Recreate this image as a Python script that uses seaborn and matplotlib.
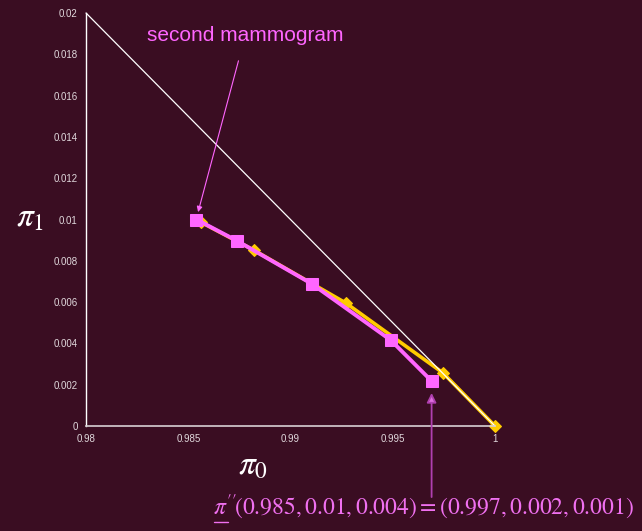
import matplotlib
matplotlib.use("Agg")
import matplotlib.pyplot as plt
from matplotlib.lines import Line2D
import seaborn as sns
import pandas as pd

# Belief-state trajectories on the (pi0, pi1) simplex
pink_pi0 = [0.9854, 0.9874, 0.99105, 0.9949, 0.9969]
pink_pi1 = [0.0100, 0.00896, 0.00688, 0.00416, 0.00218]

gold_pi0 = [0.9856, 0.9882, 0.9927, 0.99746, 1.0]
gold_pi1 = [0.00988, 0.00852, 0.00596, 0.00257, 0.0]

x_ticks = [0.98, 0.985, 0.99, 0.995, 1.0]
x_tick_labels = ["0.98", "0.985", "0.99", "0.995", "1"]
y_ticks = [0, 0.002, 0.004, 0.006, 0.008, 0.01, 0.012, 0.014, 0.016, 0.018, 0.02]
y_tick_labels = ["0", "0.002", "0.004", "0.006", "0.008", "0.01", "0.012",
                 "0.014", "0.016", "0.018", "0.02"]

BG = "#3a0d22"
PINK = "#ff66ff"
GOLD = "#ffcc00"

sns.set_style("white", {"axes.facecolor": BG, "figure.facecolor": BG})
plt.rcParams["font.family"] = ["Liberation Sans", "DejaVu Sans"]
plt.rcParams["mathtext.fontset"] = "stix"

fig = plt.figure(figsize=(6.42, 5.31), dpi=100)
ax = fig.add_axes([0.134, 0.1977, 0.637, 0.7778])
ax.set_facecolor(BG)

gold = pd.DataFrame({"pi0": gold_pi0, "pi1": gold_pi1})
pink = pd.DataFrame({"pi0": pink_pi0, "pi1": pink_pi1})

sns.lineplot(data=gold, x="pi0", y="pi1", sort=False, color=GOLD, lw=2.6,
             marker="D", markersize=6.5, markeredgecolor=GOLD, ax=ax,
             zorder=2, clip_on=False)

# simplex boundary pi0 + pi1 = 1
ax.plot([0.98, 1.0], [0.02, 0.0], color="white", lw=0.9, zorder=2.5,
        clip_on=False)

sns.lineplot(data=pink, x="pi0", y="pi1", sort=False, color=PINK, lw=2.8,
             marker="s", markersize=9, markeredgecolor=PINK, ax=ax, zorder=3)

ax.set_xlim(0.98, 1.0)
ax.set_ylim(0, 0.02)
ax.set_xticks(x_ticks)
ax.set_xticklabels(x_tick_labels)
ax.set_yticks(y_ticks)
ax.set_yticklabels(y_tick_labels)
ax.set_xlabel("")
ax.set_ylabel("")
ax.tick_params(axis="x", direction="in", length=3, color="#d8d0d4",
               labelsize=7, labelcolor="#e0d8dc", pad=6)
ax.tick_params(axis="y", direction="out", length=3, color="white",
               labelsize=7, labelcolor="#e0d8dc", pad=3)
for s in ["top", "right"]:
    ax.spines[s].set_visible(False)
ax.spines["left"].set_color("white")
ax.spines["bottom"].set_color("#d8d0d4")
ax.spines["left"].set_linewidth(1.0)
ax.spines["bottom"].set_linewidth(1.2)

# axis symbols
fig.text(0.047, 0.589, r"$\pi_1$", color="white", fontsize=24,
         ha="center", va="center")
fig.text(0.394, 0.122, r"$\pi_0$", color="white", fontsize=24,
         ha="center", va="center")

# callouts
ax.annotate("second mammogram", xy=(0.98548, 0.01036), xytext=(0.98778, 0.01889),
            color=PINK, fontsize=15, ha="center", va="center",
            arrowprops=dict(arrowstyle="-|>", color=PINK, lw=0.8,
                            mutation_scale=8, shrinkA=9, shrinkB=0),
            annotation_clip=False)

ax.annotate("", xy=(0.9969, 0.0016), xytext=(0.9969, -0.00344),
            arrowprops=dict(arrowstyle="-|>", ec="#b040b0", fc="#e070e0",
                            lw=1.3, mutation_scale=14, shrinkA=0, shrinkB=0),
            annotation_clip=False)

# posterior update formula with underlined pi
TXT_X, TXT_Y, TXT_FS = 0.332, 0.045, 17
LABEL_COLOR = "#f070f0"
fig.text(TXT_X, TXT_Y,
         r"$\pi''\!(0.985, 0.01, 0.004) = (0.997, 0.002, 0.001)$",
         color=LABEL_COLOR, fontsize=TXT_FS, ha="left", va="center")
renderer = fig.canvas.get_renderer()
probe = fig.text(TXT_X, TXT_Y, r"$\pi''$", fontsize=TXT_FS,
                 ha="left", va="center", alpha=0)
pb = probe.get_window_extent(renderer).transformed(fig.transFigure.inverted())
probe_pi = fig.text(TXT_X, TXT_Y, r"$\pi$", fontsize=TXT_FS,
                    ha="left", va="center", alpha=0)
pp = probe_pi.get_window_extent(renderer).transformed(fig.transFigure.inverted())
fig.add_artist(Line2D([pp.x0 + 0.002, pp.x1], [pb.y0 - 0.004, pb.y0 - 0.004],
                      color=LABEL_COLOR, lw=1.0, transform=fig.transFigure))

fig.savefig("out.png", dpi=100, facecolor=BG)
